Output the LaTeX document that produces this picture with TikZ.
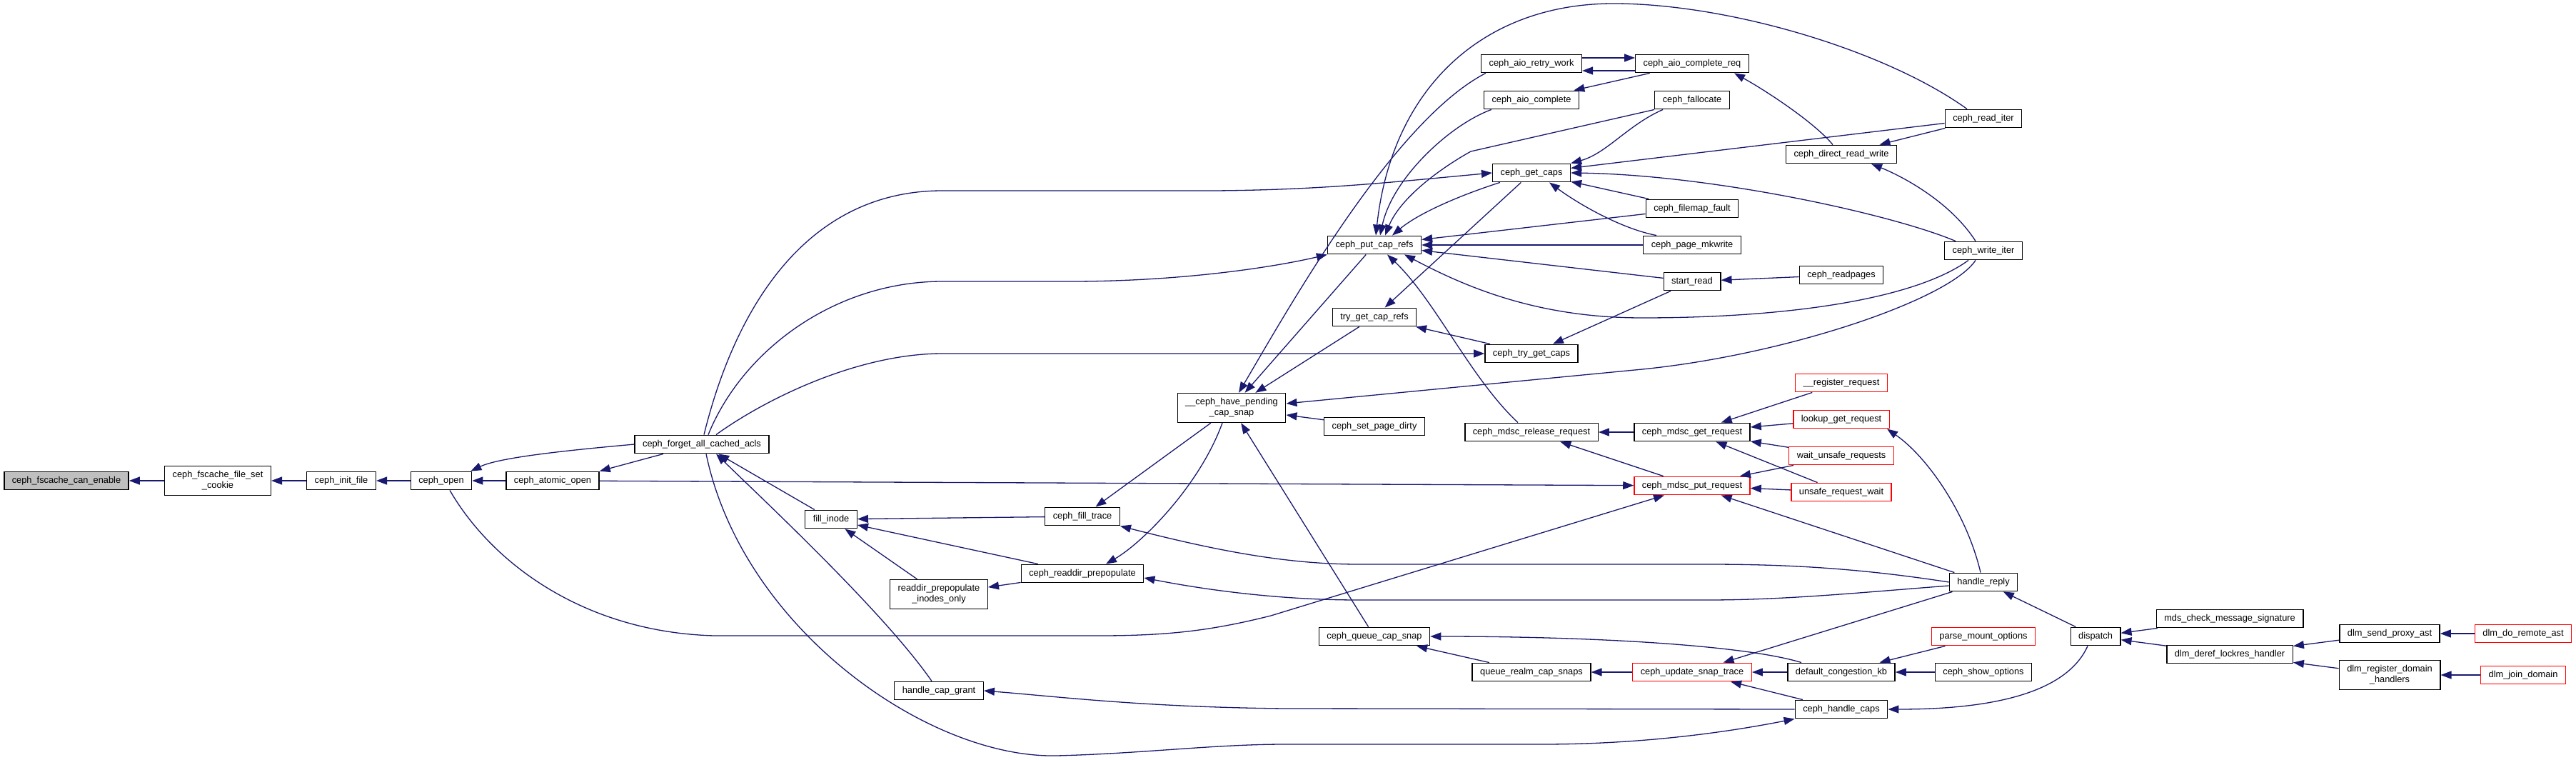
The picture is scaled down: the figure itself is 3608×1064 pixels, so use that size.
\documentclass[tikz,border=0pt]{standalone}
\usepackage{fontspec}
\setmainfont{Liberation Sans}
\usepackage{tikz}
\usetikzlibrary{arrows.meta}
\definecolor{callblue}{RGB}{25,25,112}
\definecolor{hotred}{RGB}{255,0,0}
\definecolor{focusgray}{RGB}{191,191,191}
\tikzset{
  >={Triangle[length=15pt,width=11pt]},
  box/.style={draw=#1,fill=white,line width=1.4pt,minimum height=25.5pt,
    inner xsep=11pt,inner ysep=2pt,align=center,font=\fontsize{12.8}{15}\selectfont},
  box/.default=black,
  tall/.style={minimum height=41pt},
  flow/.style={->,line width=1.3pt,draw=#1},
  flow/.default=callblue,
}

\begin{document}
\begin{tikzpicture}[x=1pt,y=-1pt]
  \path[use as bounding box,fill=white] (0,0) rectangle (3608,1064);
  % functions
  \node[box,fill=focusgray] (canenable) at (93,673) {ceph\_fscache\_can\_enable};
  \node[box,tall] (setcookie) at (305,673) {ceph\_fscache\_file\_set\\\_cookie};
  \node[box,tall] (inodesonly) at (1315,832) {readdir\_prepopulate\\\_inodes\_only};
  \node[box,tall] (havepending) at (1725,571) {\_\_ceph\_have\_pending\\\_cap\_snap};
  \node[box,tall] (registerdomain) at (3347,945) {dlm\_register\_domain\\\_handlers};
  \foreach \n/\x/\y/\c/\t in {
    initfile/478/673/black/ceph\_init\_file,
    cephopen/618/673/black/ceph\_open,
    atomicopen/774/673/black/ceph\_atomic\_open,
    forgetall/983/622/black/ceph\_forget\_all\_cached\_acls,
    fillinode/1164/727/black/fill\_inode,
    capgrant/1315/967/black/handle\_cap\_grant,
    filltrace/1516/723/black/ceph\_fill\_trace,
    readdirprep/1516/803/black/ceph\_readdir\_prepopulate,
    putcaprefs/1925/343/black/ceph\_put\_cap\_refs,
    trygetcaprefs/1925/444/black/try\_get\_cap\_refs,
    setpagedirty/1925/597/black/ceph\_set\_page\_dirty,
    queuecapsnap/1925/891/black/ceph\_queue\_cap\_snap,
    aioretry/2145/89/black/ceph\_aio\_retry\_work,
    aiocomplete/2145/140/black/ceph\_aio\_complete,
    getcaps/2145/242/black/ceph\_get\_caps,
    trygetcaps/2145/495/black/ceph\_try\_get\_caps,
    releasereq/2145/605/black/ceph\_mdsc\_release\_request,
    queuerealm/2145/941/black/queue\_realm\_cap\_snaps,
    aioreq/2370/89/black/ceph\_aio\_complete\_req,
    fallocate/2370/140/black/ceph\_fallocate,
    filemapfault/2370/292/black/ceph\_filemap\_fault,
    pagemkwrite/2370/343/black/ceph\_page\_mkwrite,
    startread/2370/394/black/start\_read,
    getreq/2370/605/black/ceph\_mdsc\_get\_request,
    putreq/2370/680/hotred/ceph\_mdsc\_put\_request,
    updatesnap/2370/941/hotred/ceph\_update\_snap\_trace,
    directrw/2579/216/black/ceph\_direct\_read\_write,
    readpages/2579/385/black/ceph\_readpages,
    registerreq/2579/536/hotred/\_\_register\_request,
    lookupreq/2579/587/hotred/lookup\_get\_request,
    waitunsafe/2579/638/hotred/wait\_unsafe\_requests,
    unsafewait/2579/689/hotred/unsafe\_request\_wait,
    congestion/2579/941/black/default\_congestion\_kb,
    handlecaps/2579/993/black/ceph\_handle\_caps,
    readiter/2778/166/black/ceph\_read\_iter,
    writeiter/2778/351/black/ceph\_write\_iter,
    handlereply/2778/815/black/handle\_reply,
    parsemount/2778/891/hotred/parse\_mount\_options,
    showoptions/2778/941/black/ceph\_show\_options,
    dispatch/2935/891/black/dispatch,
    mdscheck/3123/866/black/mds\_check\_message\_signature,
    derefhandler/3123/916/black/dlm\_deref\_lockres\_handler,
    sendproxy/3347/887/black/dlm\_send\_proxy\_ast,
    doremote/3534/887/hotred/dlm\_do\_remote\_ast,
    joindomain/3534/945/hotred/dlm\_join\_domain}
    \node[box=\c] (\n) at (\x,\y) {\t};

  % straight calls, caller/callee
  \foreach \a/\b in {setcookie/canenable,initfile/setcookie,cephopen/initfile,
    atomicopen/cephopen,atomicopen/putreq,filltrace/fillinode,readdirprep/fillinode,
    inodesonly/fillinode,readdirprep/inodesonly,fillinode/forgetall,havepending/filltrace,
    putcaprefs/havepending,trygetcaprefs/havepending,setpagedirty/havepending,
    queuecapsnap/havepending,getcaps/trygetcaprefs,readiter/getcaps,filemapfault/getcaps,
    filemapfault/putcaprefs,pagemkwrite/putcaprefs,startread/putcaprefs,readpages/startread,
    startread/trygetcaps,trygetcaps/trygetcaprefs,aioreq/aiocomplete,readiter/directrw,
    getreq/releasereq,registerreq/getreq,lookupreq/getreq,waitunsafe/getreq,unsafewait/getreq,
    putreq/releasereq,waitunsafe/putreq,unsafewait/putreq,handlereply/putreq,
    queuerealm/queuecapsnap,updatesnap/queuerealm,congestion/updatesnap,handlecaps/updatesnap,
    handlereply/updatesnap,parsemount/congestion,showoptions/congestion,dispatch/handlereply,
    mdscheck/dispatch,derefhandler/dispatch,sendproxy/derefhandler,registerdomain/derefhandler,
    doremote/sendproxy,joindomain/registerdomain}
    \draw[flow] (\a) -- (\b);

  % bent calls
  \draw[flow] (forgetall.west) .. controls (800,630) and (700,640) .. ([xshift=-2pt]cephopen.north east);
  \draw[flow] ([xshift=-54pt]forgetall.south) -- (atomicopen.north east);
  \draw[flow] ([xshift=12pt]cephopen.south) .. controls (690,790) and (820,885) .. (1000,890)
    -- (1540,890) .. controls (1640,890) and (1700,882) .. (1780,862) -- ([xshift=-39pt]putreq.south);
  \draw[flow] ([xshift=-10pt]capgrant.north) .. controls (1240,860) and (1080,710) .. ([xshift=20pt]forgetall.south);
  \draw[flow] ([xshift=6pt]forgetall.south) .. controls (1040,880) and (1300,1062) .. (1480,1058)
    .. controls (1600,1055) and (1700,1042) .. (1800,1042) -- (2160,1042)
    .. controls (2300,1042) and (2420,1025) .. (handlecaps.south west);
  \draw[flow] ([xshift=3pt]forgetall.north) .. controls (1030,430) and (1130,267) .. (1320,267)
    -- (1700,267) .. controls (1850,266) and (1950,255) .. (getcaps.west);
  \draw[flow] ([xshift=9pt]forgetall.north) .. controls (1040,490) and (1170,394) .. (1320,394)
    -- (1500,394) .. controls (1650,394) and (1780,375) .. (putcaprefs.south west);
  \draw[flow] ([xshift=20pt]forgetall.north) .. controls (1070,560) and (1200,495) .. (1320,495)
    -- (trygetcaps.west);
  \draw[flow] ([xshift=-13pt]havepending.south) .. controls (1680,680) and (1600,760) .. ([xshift=33pt]readdirprep.north);
  \draw[flow] (handlereply.west) .. controls (2600,795) and (2500,790) .. (2391,790) -- (1903,790)
    .. controls (1800,790) and (1700,770) .. (filltrace.south east);
  \draw[flow] ([yshift=-5pt]handlereply.west) .. controls (2600,830) and (2500,840) .. (2391,840) -- (1903,840)
    .. controls (1800,840) and (1700,828) .. ([yshift=-6pt]readdirprep.east);
  \draw[flow] (handlecaps.west) -- (1800,992) .. controls (1600,990) and (1480,975) .. (capgrant.east);
  \draw[flow] ([xshift=7pt]aioretry.south west) .. controls (1950,170) and (1800,440) .. ([xshift=10pt]havepending.north);
  \draw[flow] ([xshift=-11pt]writeiter.south) .. controls (2730,420) and (2500,497) .. (2300,517)
    -- ([yshift=6pt]havepending.east);
  \draw[flow] ([xshift=-23pt]readiter.north) .. controls (2640,70) and (2420,5) .. (2260,5)
    .. controls (2080,5) and (1950,120) .. ([xshift=2pt]putcaprefs.north);
  \draw[flow] ([xshift=11pt]aiocomplete.south west) .. controls (2030,175) and (1950,250) .. ([xshift=8pt]putcaprefs.north);
  \draw[flow] (fallocate.south west) -- (2060,212) .. controls (2010,240) and (1960,280) .. ([xshift=15pt]putcaprefs.north);
  \draw[flow] ([xshift=11pt]getcaps.south west) .. controls (2040,275) and (1985,300) .. ([xshift=25pt]putcaprefs.north);
  \draw[flow] ([xshift=12pt]fallocate.south west) .. controls (2280,175) and (2250,215) .. (getcaps.north east);
  \draw[flow] ([xshift=-39pt]writeiter.north) .. controls (2650,300) and (2400,245) .. (getcaps.east);
  \draw[flow] ([xshift=-50pt]pagemkwrite.north) .. controls (2270,320) and (2210,285) .. ([xshift=25pt]getcaps.south);
  \draw[flow] ([xshift=-21pt]writeiter.south) .. controls (2680,420) and (2500,445) .. (2300,445)
    .. controls (2150,445) and (2050,400) .. ([xshift=42pt]putcaprefs.south);
  \draw[flow] ([yshift=8pt]aioretry.east) -- ([yshift=8pt]aioreq.west);
  \draw[flow] ([yshift=-10pt]aioreq.west) -- ([yshift=-10pt]aioretry.east);
  \draw[flow] ([xshift=-12pt]directrw.north) .. controls (2540,170) and (2470,125) .. ([xshift=59pt]aioreq.south);
  \draw[flow] ([xshift=-11pt]writeiter.north) .. controls (2730,280) and (2660,245) .. ([xshift=42pt]directrw.south);
  \draw[flow] ([xshift=-19pt]releasereq.north) .. controls (2060,530) and (2010,420) .. ([xshift=18pt]putcaprefs.south);
  \draw[flow] ([xshift=-4pt]handlereply.north) .. controls (2755,720) and (2700,640) .. ([xshift=64pt]lookupreq.south);
  \draw[flow] ([xshift=-56pt]congestion.north) .. controls (2450,905) and (2250,891) .. (queuecapsnap.east);
  \draw[flow] ([xshift=-11pt]dispatch.south) .. controls (2890,980) and (2760,993) .. (handlecaps.east);
\end{tikzpicture}
\end{document}
